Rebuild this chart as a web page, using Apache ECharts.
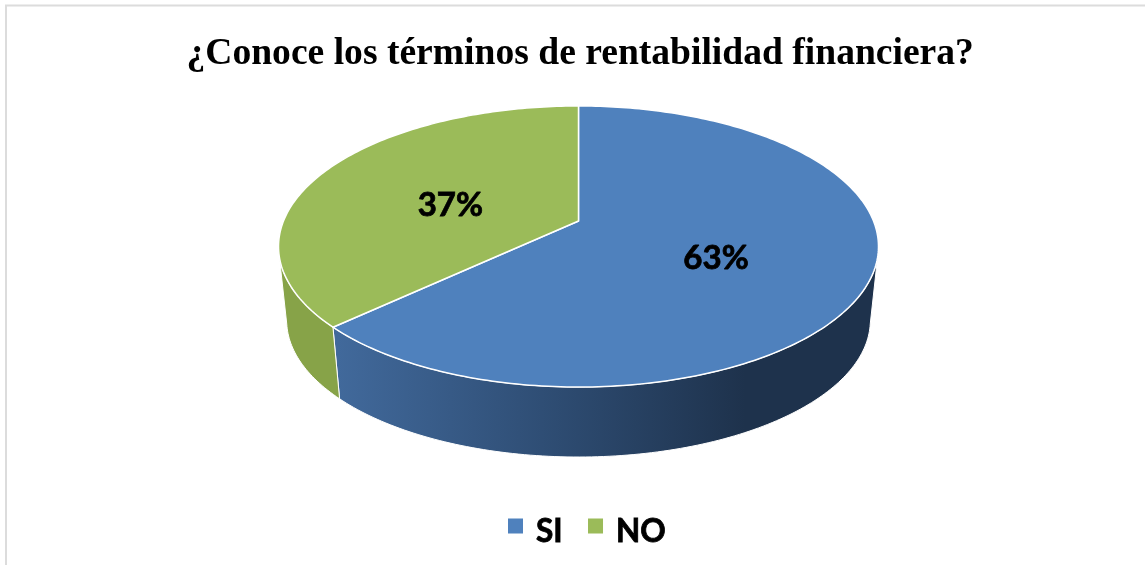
<!DOCTYPE html>
<html><head><meta charset="utf-8">
<style>html,body{margin:0;padding:0;background:#fff}#c{width:1145px;height:565px}</style>
<script src="https://cdn.jsdelivr.net/npm/echarts@6/dist/echarts.min.js"></script>
</head><body><div id="c"></div>
<script>
const titleText = '¿Conoce los términos de rentabilidad financiera?';
const categories = ['SI', 'NO'];
const percentValues = [63, 37];
const topColors = ['#4f81bd', '#9bbb59'];

// Perspective pie geometry
const CX = 578.5, B = 0.1815;
const TOP = {y0: 221, a: 135.9, c: 295};
const BOT = {y0: 295.5, a: 132.2, c: 287};
const VIS_START = 102, VIS_END = 258;
const rad = d => d * Math.PI / 180;
function project(ring, deg, r) {
  const X = r * Math.sin(rad(deg)), Z = -r * Math.cos(rad(deg));
  const w = 1 - B * Z;
  return [CX + ring.c * X / w, ring.y0 + ring.a * Z / w];
}
function arcPts(ring, from, to) {
  const n = Math.max(2, Math.ceil(Math.abs(to - from)));
  const pts = [];
  for (let i = 0; i <= n; i++) pts.push(project(ring, from + (to - from) * i / n, 1));
  return pts;
}
const total = percentValues.reduce((a, b) => a + b, 0);
const starts = percentValues.map((v, i) => percentValues.slice(0, i).reduce((a, b) => a + b, 0));

const sideFills = [
  new echarts.graphic.LinearGradient(338, 0, 745, 0, [
    {offset: 0, color: '#41699b'}, {offset: 0.5, color: '#2f4e75'}, {offset: 1, color: '#1e324c'}], true),
  '#87a348'
];

function renderSlice(params, api) {
  const idx = params.seriesIndex;
  const from = api.value(0) / total * 360, to = (api.value(0) + api.value(1)) / total * 360;
  const children = [];
  const s = Math.max(from, VIS_START), e = Math.min(to, VIS_END);
  if (e > s) {
    const side = arcPts(TOP, s, e).concat(arcPts(BOT, e, s));
    children.push({type: 'polygon', z2: 1, shape: {points: side},
      style: {fill: sideFills[idx], stroke: '#fff', lineWidth: 1}});
  }
  const top = [project(TOP, from, 0)].concat(arcPts(TOP, from, to));
  children.push({type: 'polygon', z2: 2, shape: {points: top},
    style: {fill: topColors[idx], stroke: '#fff', lineWidth: 1.5, lineJoin: 'round'}});
  const mid = project(TOP, (from + to) / 2, 0.49);
  children.push({type: 'text', z2: 3, style: {
    x: mid[0], y: mid[1] + 10, text: api.value(1) + '%', align: 'center', verticalAlign: 'middle',
    font: 'bold 33px Lato', fill: '#000', stroke: '#000', lineWidth: 0.8}});
  return {type: 'group', children};
}

const chart = echarts.init(document.getElementById('c'), null, {renderer: 'canvas'});
chart.setOption({
  animation: false,
  backgroundColor: '#fff',
  title: {text: titleText, left: 181.5, top: 30,
    textStyle: {fontFamily: 'Liberation Serif', fontWeight: 'bold', fontSize: 37.6, color: '#000'}},
  legend: {left: 508, top: 515.5, itemWidth: 15, itemHeight: 27, itemGap: 25, padding: 0,
    data: categories, icon: 'path://M0 0H15V15H0ZM0 27H15V27H0Z',
    textStyle: {fontFamily: 'Lato', fontWeight: 'bold', fontSize: 31.5, color: '#000',
      textBorderColor: '#000', textBorderWidth: 0.8, padding: [0, 0, 0, 8]}},
  graphic: [{type: 'rect', silent: true, z: -1,
    shape: {x: 6, y: 5.5, width: 1160, height: 580},
    style: {fill: 'none', stroke: '#dcdcdc', lineWidth: 2}}],
  series: categories.map((name, i) => ({
    type: 'custom', name, coordinateSystem: 'none',
    itemStyle: {color: topColors[i]},
    data: [[starts[i], percentValues[i]]],
    renderItem: renderSlice
  }))
});
</script></body></html>
